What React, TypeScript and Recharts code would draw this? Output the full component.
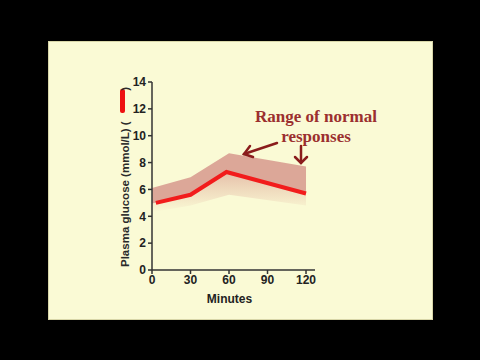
import React from "react";
import {
  ComposedChart,
  Line,
  Area,
  XAxis,
  YAxis,
} from "recharts";

// red line: single subject's glucose curve
const lineMinutes = [3, 30, 58, 120];
const glucose = [5.0, 5.6, 7.3, 5.7];

// shaded band: range of normal responses
const bandMinutes = [0, 30, 60, 120];
const bandHigh = [6.1, 6.9, 8.7, 7.7];
const bandMid = [4.95, 5.6, 7.2, 5.8];
const bandLow = [4.3, 4.8, 5.6, 4.8];

const xTicks = [0, 30, 60, 90, 120];
const yTicks = [0, 2, 4, 6, 8, 10, 12, 14];

const lineData = lineMinutes.map((m, i) => ({ m, g: glucose[i] }));
const bandData = bandMinutes.map((m, i) => ({
  m,
  upper: [bandMid[i], bandHigh[i]],
  lower: [bandLow[i], bandMid[i]],
}));

// rotated axis title with the red line key drawn in it
const YLabel = () => (
  <g>
    <text
      transform="translate(129,267) rotate(-90)"
      textAnchor="start"
      fontFamily="Liberation Sans, Arial, sans-serif"
      fontSize={11.5}
      fontWeight="bold"
      fill="#2a2a2a"
    >
      Plasma glucose (mmol/L) (
    </text>
    <rect x={120} y={89} width={5} height={24} rx={2} fill="#ee1111" />
    <text
      transform="translate(129,87) rotate(-90)"
      textAnchor="end"
      fontFamily="Liberation Sans, Arial, sans-serif"
      fontSize={11.5}
      fontWeight="bold"
      fill="#2a2a2a"
    >
      )
    </text>
  </g>
);

const App = () => {
  const tickStyle = {
    fontFamily: "Liberation Sans, Arial, sans-serif",
    fontSize: 12,
    fontWeight: "bold",
    fill: "#222",
  };
  return (
    <div
      style={{
        position: "absolute",
        left: 0,
        top: 0,
        width: 480,
        height: 360,
        background: "#000",
      }}
    >
      <div
        style={{
          position: "absolute",
          left: 48,
          top: 41,
          width: 383,
          height: 277,
          background: "#fafad5",
          border: "1px solid #d8d6a8",
        }}
      />
      <div style={{ position: "absolute", left: 0, top: 0 }}>
        <ComposedChart
          width={480}
          height={360}
          margin={{ top: 82, right: 165, bottom: 60, left: 112 }}
        >
          <defs>
            <linearGradient id="fade" x1="0" y1="0" x2="0" y2="1">
              <stop offset="0%" stopColor="#c86a6a" stopOpacity={0.65} />
              <stop offset="45%" stopColor="#c86a6a" stopOpacity={0.35} />
              <stop offset="100%" stopColor="#c86a6a" stopOpacity={0} />
            </linearGradient>
          </defs>
          <XAxis
            type="number"
            dataKey="m"
            domain={[0, 127]}
            ticks={xTicks}
            allowDuplicatedCategory={false}
            height={30}
            tick={tickStyle}
            tickSize={4}
            tickMargin={1}
            stroke="#333"
            strokeWidth={1.5}
            label={{
              value: "Minutes",
              position: "insideBottom",
              offset: -3,
              dx: -4,
              style: { ...tickStyle, fontSize: 12 },
            }}
          />
          <YAxis
            type="number"
            domain={[0, 14]}
            ticks={yTicks}
            width={40}
            tick={tickStyle}
            tickSize={4}
            tickMargin={2}
            stroke="#333"
            strokeWidth={1.5}
            label={<YLabel />}
          />
          <Area
            data={bandData}
            dataKey="upper"
            type="linear"
            stroke="none"
            fill="#c87070"
            fillOpacity={0.6}
            isAnimationActive={false}
          />
          <Area
            data={bandData}
            dataKey="lower"
            type="linear"
            stroke="none"
            fill="url(#fade)"
            isAnimationActive={false}
          />
          <Line
            data={lineData}
            dataKey="g"
            type="linear"
            stroke="#f21c1c"
            strokeWidth={4}
            dot={false}
            isAnimationActive={false}
          />
        </ComposedChart>
      </div>
      <svg
        width={480}
        height={360}
        style={{ position: "absolute", left: 0, top: 0 }}
      >
        <g
          fontFamily="Liberation Serif, serif"
          fontWeight="bold"
          fontSize={17}
          fill="#9b2f2f"
          textAnchor="middle"
        >
          <text x={316} y={122}>Range of normal</text>
          <text x={316} y={142}>responses</text>
        </g>
        <g stroke="#8a1c1c" strokeWidth={2.5} fill="none" strokeLinecap="round">
          <line x1={277} y1={143} x2={244} y2={154} />
          <polyline points="250,146 244,154 253,157" />
          <line x1={301} y1={146} x2={301} y2={163} />
          <polyline points="295,157 301,163 307,157" />
        </g>
      </svg>
    </div>
  );
};

export default App;
